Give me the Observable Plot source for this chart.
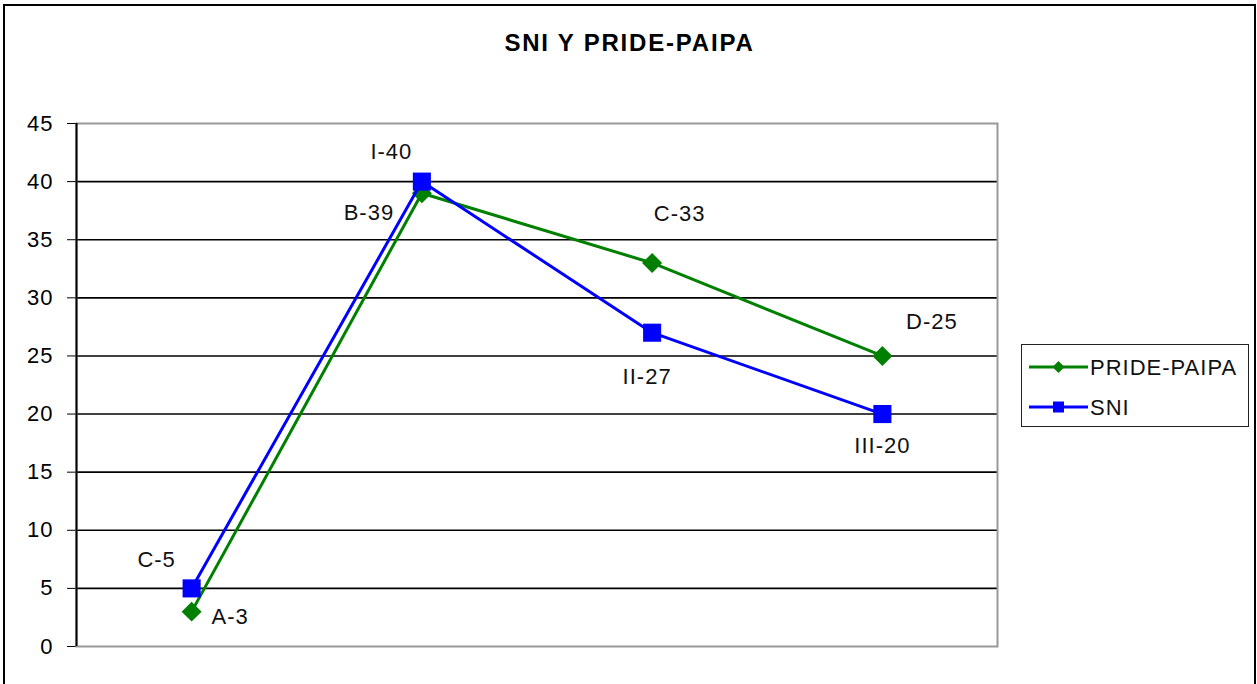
<!DOCTYPE html>
<html>
<head>
<meta charset="utf-8">
<script src="https://cdn.jsdelivr.net/npm/d3@7"></script>
<script src="https://cdn.jsdelivr.net/npm/@observablehq/plot@0.6"></script>
<style>
  body { margin: 0; background: #fff; }
  #wrap { position: relative; width: 1257px; height: 684px; overflow: hidden; font-family: 'Liberation Sans', Arial, sans-serif; }
  #outer { position: absolute; left: 3px; top: 4px; width: 1253px; height: 730px; border: 2.5px solid #000; box-sizing: border-box; }
  #title { position: absolute; top: 31px; left: 0; width: 1257px; padding-left: 2px; box-sizing: border-box; text-align: center; font-weight: bold; font-size: 24px; letter-spacing: 1.8px; line-height: 1; color: #000; }
  #chart { position: absolute; left: 0; top: 0; }
  #legend { position: absolute; left: 1021px; top: 344px; width: 228px; height: 83px; border: 1.5px solid #222; box-sizing: border-box; background: #fff; }
  #legend svg { position: absolute; left: -1.5px; top: -1.5px; }
</style>
</head>
<body>
<div id="wrap">
  <div id="outer"></div>
  <div id="title"></div>
  <div id="chart"></div>
  <div id="legend"></div>
</div>
<script>
// ---- data ----
const chartTitle = "SNI Y PRIDE-PAIPA";
const niveles = [1, 2, 3, 4];
const seriesNames = ["PRIDE-PAIPA", "SNI"];
const prideValues = [3, 39, 33, 25];
const sniValues = [5, 40, 27, 20];
const prideLabels = ["A-3", "B-39", "C-33", "D-25"];
const sniLabels = ["C-5", "I-40", "II-27", "III-20"];
const yTicks = [0, 5, 10, 15, 20, 25, 30, 35, 40, 45];

// ---- layout / style ----
const colors = {"PRIDE-PAIPA": "#008000", "SNI": "#0000FF"};
const prideOffsets = [[38.5, 5], [-53, 20], [27.5, -49.5], [49.5, -34]];
const sniOffsets = [[-35, -28.5], [-30.5, -29.5], [-5, 44.5], [0, 32]];

const prideData = niveles.map((n, i) => ({nivel: n, valor: prideValues[i], etiqueta: prideLabels[i]}));
const sniData = niveles.map((n, i) => ({nivel: n, valor: sniValues[i], etiqueta: sniLabels[i]}));
const xDomain = [niveles[0] - 0.5, niveles[niveles.length - 1] + 0.5];
const gridTicks = yTicks.filter(t => t > yTicks[0] && t < yTicks[yTicks.length - 1]);

document.getElementById("title").textContent = chartTitle;

const labelMarks = (data, offsets) => data.map((d, i) =>
  Plot.text([d], {x: "nivel", y: "valor", text: "etiqueta", dx: offsets[i][0], dy: offsets[i][1], fill: "#111"})
);

const chart = Plot.plot({
  width: 1257,
  height: 684,
  marginLeft: 76,
  marginRight: 260,
  marginTop: 123,
  marginBottom: 38,
  style: {fontFamily: "'Liberation Sans', Arial, sans-serif", fontSize: "22px", letterSpacing: "1px", color: "#000", background: "transparent", overflow: "visible"},
  x: {type: "linear", domain: xDomain, axis: null},
  y: {domain: [yTicks[0], yTicks[yTicks.length - 1]], ticks: yTicks, tickSize: 9, tickPadding: 14, label: null},
  marks: [
    Plot.ruleY(gridTicks, {stroke: "#000", strokeWidth: 1.6}),
    Plot.frame({stroke: "#999", strokeWidth: 2}),
    Plot.ruleX([xDomain[0]], {stroke: "#000", strokeWidth: 2}),
    Plot.line(prideData, {x: "nivel", y: "valor", stroke: colors["PRIDE-PAIPA"], strokeWidth: 3}),
    Plot.dot(prideData, {x: "nivel", y: "valor", symbol: "diamond2", r: 9, fill: colors["PRIDE-PAIPA"], stroke: "none"}),
    Plot.line(sniData, {x: "nivel", y: "valor", stroke: colors["SNI"], strokeWidth: 3}),
    Plot.dot(sniData, {x: "nivel", y: "valor", symbol: "square", r: 10.2, fill: colors["SNI"], stroke: "none"}),
    ...labelMarks(prideData, prideOffsets),
    ...labelMarks(sniData, sniOffsets)
  ]
});
document.getElementById("chart").appendChild(chart);

// ---- legend ----
const ns = "http://www.w3.org/2000/svg";
const lsvg = document.createElementNS(ns, "svg");
lsvg.setAttribute("width", 228);
lsvg.setAttribute("height", 83);
const rowsY = [23, 63];
seriesNames.forEach((name, i) => {
  const y = rowsY[i];
  const line = document.createElementNS(ns, "line");
  line.setAttribute("x1", 8); line.setAttribute("x2", 67);
  line.setAttribute("y1", y); line.setAttribute("y2", y);
  line.setAttribute("stroke", colors[name]); line.setAttribute("stroke-width", 3);
  lsvg.appendChild(line);
  const m = document.createElementNS(ns, "path");
  if (name === "SNI") {
    m.setAttribute("d", `M${37.5 - 5.5},${y - 5.5}h11v11h-11z`);
  } else {
    m.setAttribute("d", `M37.5,${y - 6}l6,6l-6,6l-6,-6z`);
  }
  m.setAttribute("fill", colors[name]);
  lsvg.appendChild(m);
  const t = document.createElementNS(ns, "text");
  t.setAttribute("x", 69);
  t.setAttribute("y", y + 8);
  t.setAttribute("font-size", 22);
  t.setAttribute("letter-spacing", "1px");
  t.setAttribute("font-family", "'Liberation Sans', Arial, sans-serif");
  t.setAttribute("fill", "#111");
  t.textContent = name;
  lsvg.appendChild(t);
});
document.getElementById("legend").appendChild(lsvg);
</script>
</body>
</html>
